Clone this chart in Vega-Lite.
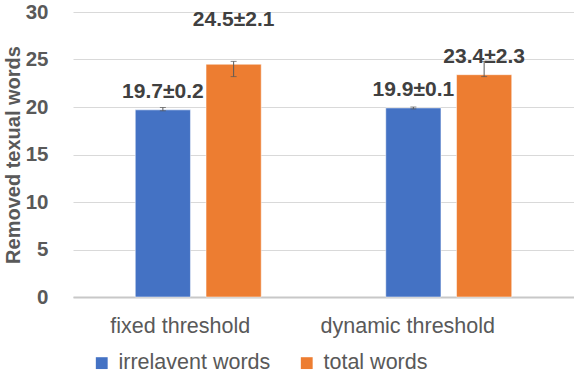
{
  "$schema": "https://vega.github.io/schema/vega-lite/v6.json",
  "width": 501,
  "height": 285,
  "autosize": "none",
  "padding": {"left": 73, "top": 12, "right": 0, "bottom": 82},
  "background": "white",
  "config": {"view": {"stroke": null}, "font": "Liberation Sans"},
  "data": {
    "values": [
      {"method": "fixed threshold", "series": "irrelavent words", "value": 19.7, "lo": 19.6, "hi": 19.95, "label": "19.7±0.2"},
      {"method": "fixed threshold", "series": "total words", "value": 24.5, "lo": 23.2, "hi": 24.8, "label": "24.5±2.1"},
      {"method": "dynamic threshold", "series": "irrelavent words", "value": 19.9, "lo": 19.8, "hi": 20.0, "label": "19.9±0.1"},
      {"method": "dynamic threshold", "series": "total words", "value": 23.4, "lo": 23.2, "hi": 24.8, "label": "23.4±2.3"}
    ]
  },
  "encoding": {
    "x": {
      "field": "method",
      "type": "nominal",
      "sort": ["fixed threshold", "dynamic threshold"],
      "scale": {"paddingInner": 0, "paddingOuter": 0},
      "axis": {
        "title": null,
        "labelAngle": 0,
        "labelFontSize": 21.5,
        "labelColor": "#595959",
        "labelPadding": 18,
        "labelOffset": {"condition": {"test": "datum.value === 'fixed threshold'", "value": -18}, "value": -41},
        "ticks": false,
        "domainColor": "#c8c8c8",
        "domainWidth": 2,
        "grid": false
      }
    },
    "xOffset": {
      "field": "series",
      "type": "nominal",
      "sort": ["irrelavent words", "total words"],
      "scale": {"paddingInner": 0.22, "paddingOuter": 0.88}
    }
  },
  "layer": [
    {
      "mark": {"type": "bar", "stroke": "#ffffff", "strokeOpacity": 0.5, "strokeWidth": 1},
      "encoding": {
        "y": {
          "field": "value",
          "type": "quantitative",
          "scale": {"domain": [0, 30], "nice": false},
          "axis": {
            "values": [0, 5, 10, 15, 20, 25, 30],
            "title": "Removed texual words",
            "titleFontSize": 20,
            "titleFontWeight": "bold",
            "titleColor": "#595959",
            "titlePadding": 2,
            "labelFontSize": 20.5,
            "labelFontWeight": "bold",
            "labelColor": "#595959",
            "labelPadding": 25,
            "domain": false,
            "ticks": false,
            "gridColor": "#d9d9d9",
            "gridWidth": 1
          }
        },
        "color": {
          "field": "series",
          "type": "nominal",
          "scale": {"domain": ["irrelavent words", "total words"], "range": ["#4472C4", "#ED7D31"]},
          "legend": {
            "title": null,
            "orient": "none",
            "direction": "horizontal",
            "legendX": 18,
            "legendY": 340,
            "padding": 0,
            "symbolType": "square",
            "symbolSize": 140,
            "symbolStrokeWidth": 0,
            "symbolOpacity": 1,
            "labelFontSize": 21.5,
            "labelColor": "#595959",
            "labelOffset": 6,
            "columnPadding": 25
          }
        }
      }
    },
    {
      "mark": {"type": "rule", "color": "#595959", "strokeWidth": 1},
      "encoding": {
        "y": {"field": "lo", "type": "quantitative"},
        "y2": {"field": "hi"}
      }
    },
    {
      "mark": {"type": "tick", "orient": "horizontal", "size": 6, "thickness": 1, "color": "#595959"},
      "encoding": {"y": {"field": "lo", "type": "quantitative"}}
    },
    {
      "mark": {"type": "tick", "orient": "horizontal", "size": 6, "thickness": 1, "color": "#595959"},
      "encoding": {"y": {"field": "hi", "type": "quantitative"}}
    },
    {
      "transform": [{"filter": "datum.label !== '24.5±2.1'"}],
      "mark": {"type": "text", "baseline": "middle", "dy": -18, "fontSize": 21, "fontWeight": "bold", "color": "#404040"},
      "encoding": {
        "y": {"field": "value", "type": "quantitative"},
        "text": {"field": "label"}
      }
    },
    {
      "transform": [{"filter": "datum.label === '24.5±2.1'"}],
      "mark": {"type": "text", "baseline": "middle", "dy": -44, "fontSize": 21, "fontWeight": "bold", "color": "#404040"},
      "encoding": {
        "y": {"field": "value", "type": "quantitative"},
        "text": {"field": "label"}
      }
    }
  ]
}
